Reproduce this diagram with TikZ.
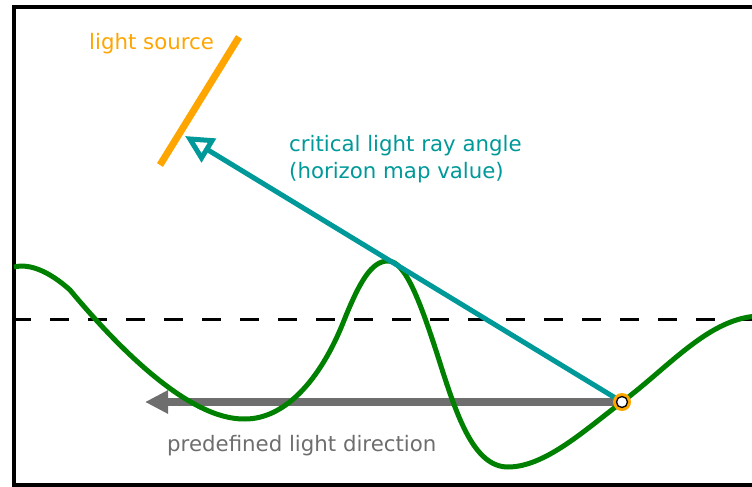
\documentclass[tikz,border=0pt]{standalone}
\usepackage{fontspec}
\setmainfont{DejaVu Sans}
\usetikzlibrary{positioning,arrows.meta}

\definecolor{srcorange}{RGB}{255,165,0}
\definecolor{raycyan}{RGB}{0,153,153}
\definecolor{dirgray}{RGB}{110,110,110}
\definecolor{terrain}{RGB}{0,128,0}

\begin{document}
\begin{tikzpicture}[x=1pt,y=-1pt,
  lbl/.style={inner sep=0pt,anchor=base west,align=left,
    font=\fontsize{21.3}{27}\selectfont},
  ray/.style={raycyan,line width=5pt,
    -{Triangle[open,length=28pt,width=27pt]}},
  lightdir/.style={dirgray,line width=7.5pt,
    -{Triangle[length=23pt,width=22pt]}},
  ground/.style={terrain,line width=5pt,line join=round}
  ]

  \useasboundingbox (0,0) rectangle (752,487);
  \draw[line width=4.5pt] (14,7) rectangle (780,485);

  % base level
  \draw[line width=3pt,dash pattern=on 19pt off 19pt] (12,319) -- (752,319);

  \coordinate (sample) at (622,402);
  \coordinate (dirtip) at (145,402);
  \coordinate (raytip) at (185,136);
  \coordinate (srclow) at (160,165);
  \coordinate (srchigh) at (239,37);

  \draw[lightdir] (sample) -- (dirtip);

  % height field
  \draw[ground] (14,267) .. controls (30,263) and (50,272) .. (70,290)
    .. controls (120,350) and (190,420) .. (245,419)
    .. controls (285,419) and (320,380) .. (343,323)
    .. controls (360,280) and (372,261) .. (388,261)
    .. controls (405,261) and (420,300) .. (440,363)
    .. controls (458,420) and (475,467) .. (508,467)
    .. controls (545,467) and (585,430) .. (622,402)
    .. controls (670,366) and (710,317) .. (760,316);

  \draw[ray] (sample) -- (raytip);

  \fill[srcorange] (sample) circle (9pt);
  \draw[line width=1.3pt,fill=white] (sample) circle (5.5pt);

  \draw[srcorange,line width=7pt] (srclow) -- (srchigh);

  \node[lbl,text=srcorange] (srclbl) at (89,50) {light source};
  \node[lbl,text=raycyan] (raylbl) at (289,178)
    {critical light ray angle\\(horizon map value)};
  \node[lbl,text=dirgray] (dirlbl) at (167,451) {predefined light direction};
\end{tikzpicture}
\end{document}
